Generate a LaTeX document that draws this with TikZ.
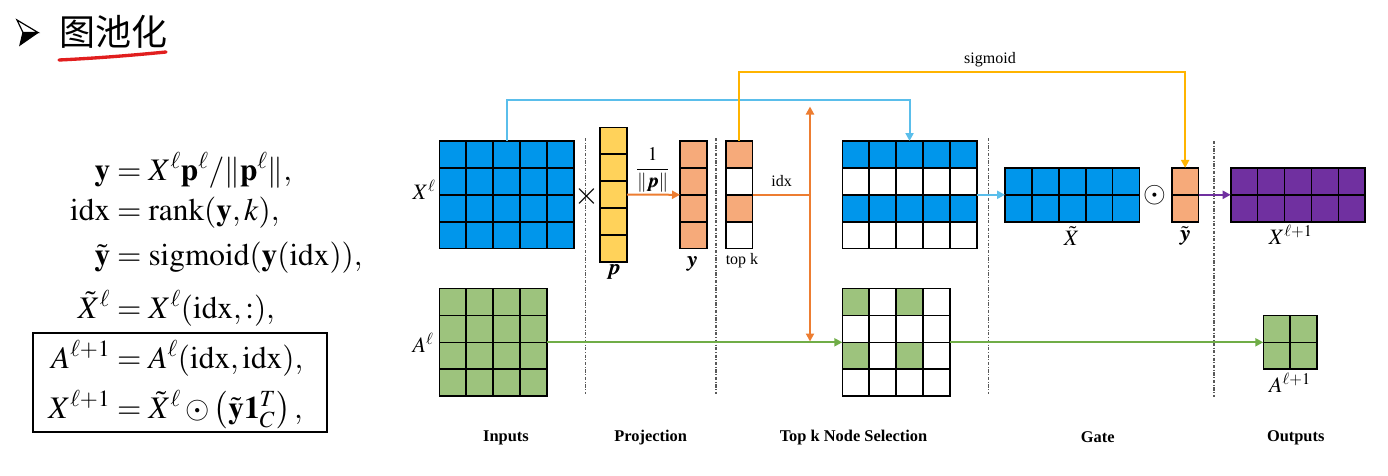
\documentclass[tikz,border=0pt]{standalone}
\usepackage{amsmath,amssymb}
\usepackage{mathptmx}
\usepackage{bm}
\usepackage{fontspec}
\setmainfont{Liberation Serif}
\newfontfamily\cjkfont{Noto Sans CJK SC}
\usetikzlibrary{arrows.meta,calc}
\definecolor{cblue}{RGB}{0,150,235}
\definecolor{lblue}{RGB}{90,190,235}
\definecolor{cyel}{RGB}{255,210,90}
\definecolor{lyel}{RGB}{255,180,0}
\definecolor{cora}{RGB}{246,170,122}
\definecolor{lora}{RGB}{237,125,49}
\definecolor{cgre}{RGB}{157,195,125}
\definecolor{lgre}{RGB}{112,173,71}
\definecolor{cpur}{RGB}{112,48,160}
\definecolor{cred}{RGB}{225,30,30}
\def\cs{26.9}
\newcommand{\matnode}[6]{%
  \node[matn, fill=#6, minimum width={#4*\cs*0.75pt}, minimum height={#5*\cs*0.75pt}] (#1) at ({#2+#4*\cs/2},{#3+#5*\cs/2}) {};}
\newcommand{\cellfill}[5]{%
  \fill[#1] ({#2+#4*\cs},{#3+#5*\cs}) rectangle ({#2+#4*\cs+\cs},{#3+#5*\cs+\cs});}
\newcommand{\matgrid}[4]{%
  \foreach \i in {0,...,#3} {\draw[gridl] ({#1+\i*\cs},#2) -- ({#1+\i*\cs},{#2+#4*\cs});}
  \foreach \j in {0,...,#4} {\draw[gridl] (#1,{#2+\j*\cs}) -- ({#1+#3*\cs},{#2+\j*\cs});}}
\newcommand{\eqline}[2]{\makebox[60pt][r]{$#1$}${}=#2$}
\tikzset{
  matn/.style={draw=black, line width=1.2pt, inner sep=0pt, outer sep=0pt},
  gridl/.style={draw=black, line width=1.2pt, line cap=rect},
  conn/.style={line width=1.5pt, -{Triangle[length=6pt,width=6pt]}},
  plain/.style={line width=1.5pt},
  sepline/.style={draw=black!65, line width=0.8pt, dash pattern=on 2.5pt off 1.2pt on 0.7pt off 1.2pt},
  lab/.style={font=\fontsize{12}{14}\selectfont, inner sep=0pt},
  blab/.style={font=\fontsize{12.3}{14}\selectfont\bfseries, inner sep=0pt},
  mlab/.style={font=\fontsize{16.5}{19}\selectfont, inner sep=0pt},
  eq/.style={font=\fontsize{23.5}{27}\selectfont, inner sep=0pt, anchor=base west},
}
\begin{document}
\begin{tikzpicture}[x=0.75pt,y=-0.75pt]
\fill[white] (0,0) rectangle (1388,475);
\useasboundingbox (0,0) rectangle (1388,475);

% ---- title ----
\draw[black, line width=0.9pt, line join=miter, fill=white] (17,20) -- (38,32.5) -- (23,32.5) -- cycle;
\fill[black] (23,32.5) -- (38,32.5) -- (20,45) -- cycle;
\draw[black, line width=0.9pt, line join=miter] (23,32.5) -- (20,45) -- (38,32.5);
\node[inner sep=0pt, font=\cjkfont\fontsize{27}{30}\selectfont] (title) at (113,32) {图池化};
\draw[cred, line width=2.5pt, line cap=round] (59,60) .. controls (100,58) and (135,55) .. (166,52);

% ---- equations (the = signs aligned at x = 110 px) ----
\node[eq] (e1) at (30,180) {\eqline{\mathbf{y}}{X^{\ell}\mathbf{p}^{\ell}/\|\mathbf{p}^{\ell}\|,}};
\node[eq] (e2) at (30,220) {\eqline{\mathrm{idx}}{\mathrm{rank}(\mathbf{y},k),}};
\node[eq] (e3) at (30,265) {\eqline{\tilde{\mathbf{y}}}{\mathrm{sigmoid}(\mathbf{y}(\mathrm{idx})),}};
\node[eq] (e4) at (30,318) {\eqline{\tilde{X}^{\ell}}{X^{\ell}(\mathrm{idx},:),}};
\node[eq] (e5) at (30,368) {\eqline{A^{\ell+1}}{A^{\ell}(\mathrm{idx},\mathrm{idx}),}};
\node[eq] (e6) at (30,418) {\eqline{X^{\ell+1}}{\tilde{X}^{\ell}\odot\left(\tilde{\mathbf{y}}\mathbf{1}_{C}^{T}\right),}};
\draw[line width=1.2pt] (33,333) rectangle (327,432);

% ---- separators ----
\draw[sepline] (585.7,138) -- (585.7,394);
\draw[sepline] (716,138) -- (716,394);
\draw[sepline] (988.5,138) -- (988.5,394);
\draw[sepline] (1214,141) -- (1214,397);

% ---- matrices ----
\matnode{X}{439.3}{141}{5}{4}{cblue}
\matgrid{439.3}{141}{5}{4}
\matnode{A}{439.3}{288.5}{4}{4}{cgre}
\matgrid{439.3}{288.5}{4}{4}
\matnode{P}{600}{127.3}{1}{5}{cyel}
\matgrid{600}{127.3}{1}{5}
\matnode{Y}{680}{141}{1}{4}{cora}
\matgrid{680}{141}{1}{4}
\matnode{T}{725.7}{141}{1}{4}{white}
\cellfill{cora}{725.7}{141}{0}{0}
\cellfill{cora}{725.7}{141}{0}{2}
\matgrid{725.7}{141}{1}{4}
\matnode{XS}{842.3}{141}{5}{4}{white}
\foreach \c in {0,...,4} {\cellfill{cblue}{842.3}{141}{\c}{0}\cellfill{cblue}{842.3}{141}{\c}{2}}
\matgrid{842.3}{141}{5}{4}
\matnode{AS}{842.3}{288.5}{4}{4}{white}
\cellfill{cgre}{842.3}{288.5}{0}{0}
\cellfill{cgre}{842.3}{288.5}{2}{0}
\cellfill{cgre}{842.3}{288.5}{0}{2}
\cellfill{cgre}{842.3}{288.5}{2}{2}
\matgrid{842.3}{288.5}{4}{4}
\matnode{XT}{1005}{167.9}{5}{2}{cblue}
\matgrid{1005}{167.9}{5}{2}
\matnode{YT}{1171.7}{167.9}{1}{2}{cora}
\matgrid{1171.7}{167.9}{1}{2}
\matnode{XN}{1230.7}{167.9}{5}{2}{cpur}
\matgrid{1230.7}{167.9}{5}{2}
\matnode{AN}{1263.3}{315.4}{2}{2}{cgre}
\matgrid{1263.3}{315.4}{2}{2}

% ---- labels ----
\node[mlab] (lX) at (424,190) {$X^{\ell}$};
\node[mlab] (lA) at (423,343) {$A^{\ell}$};
\node[mlab] (lP) at (613.5,272) {$\bm{p}$};
\node[mlab] (lY) at (692,264) {$\bm{y}$};
\node[lab] (ltop) at (742,261) {top k};
\node[font=\fontsize{24}{26}\selectfont, inner sep=0pt] (times) at (586.7,196.5) {$\times$};
\node[font=\fontsize{14.5}{17}\selectfont, inner sep=0pt] (frac) at (652.7,170) {$\dfrac{1}{\|\bm{p}\|}$};
\node[lab] (lidx) at (781.7,181.5) {idx};
\node[lab] (lsig) at (990,59.5) {sigmoid};
\node[mlab] (lXT) at (1071.7,236) {$\tilde{X}$};
\node[font=\fontsize{22}{24}\selectfont, inner sep=0pt] (odot) at (1155,195) {$\odot$};
\node[mlab] (lYT) at (1185,236) {$\tilde{\bm{y}}$};
\node[mlab] (lXN) at (1290.8,235) {$X^{\ell+1}$};
\node[mlab] (lAN) at (1290,383) {$A^{\ell+1}$};

\node[blab] (s1) at (506,437.5) {Inputs};
\node[blab] (s2) at (650.7,437.5) {Projection};
\node[blab] (s3) at (853.5,437.5) {Top k Node Selection};
\node[blab] (s4) at (1097.7,437.5) {Gate};
\node[blab] (s5) at (1295.7,437.5) {Outputs};

% ---- connectors ----
\draw[conn, lblue] (X.north) -- ++(0,-41) -| (XS.north);
\draw[conn, lyel] (T.north) -- ++(0,-68.7) -| (YT.north);
\draw[conn, lora] (P.east) -- (Y.west);
\coordinate (J) at (810,194.8);
\coordinate (Jup) at (810,106.5);
\coordinate (Jdn) at (810,341.5);
\draw[plain, lora] (T.east) -- (J);
\draw[conn, lora] (J) -- (Jup);
\draw[conn, lora] (J) -- (Jdn);
\draw[conn, lblue] (XS.east) -- (XT.west);
\draw[conn, cpur] (YT.east) -- (XN.west);
\draw[conn, lgre] (A.east) -- (AS.west);
\draw[conn, lgre] (AS.east) -- (AN.west);
\end{tikzpicture}
\end{document}
